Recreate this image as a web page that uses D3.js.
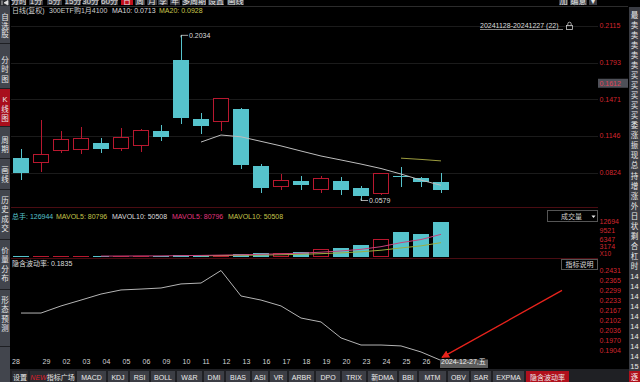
<!DOCTYPE html>
<html><head><meta charset="utf-8">
<script src="https://cdn.jsdelivr.net/npm/d3@7"></script>
<style>
html,body{margin:0;padding:0;background:#000;overflow:hidden}
svg{display:block}
text{font-family:Arial,"Liberation Sans","Noto Sans CJK SC",sans-serif}
</style></head><body>
<svg id="c" width="640" height="382"></svg>
<script>
// ---------- data ----------
const dates = ["28","29","02","03","04","05","06","09","10","11","12","13","16","17","18","19","20","23","24","25","26","27"];
const lastDateLabel = "2024-12-27,五";
const open  = [0.0953,0.0912,0.1018,0.1024,0.1086,0.1033,0.1059,0.1191,0.1817,0.1300,0.1271,0.1385,0.0883,0.0698,0.0751,0.0671,0.0751,0.0689,0.0636,0.0796,0.0780,0.0745];
const high  = [0.1033,0.1288,0.1191,0.1227,0.1130,0.1218,0.1209,0.1244,0.2034,0.1350,0.1482,0.1390,0.0901,0.0812,0.0795,0.0795,0.0786,0.0707,0.0821,0.0877,0.0785,0.0824];
const low   = [0.0760,0.0833,0.0998,0.0989,0.0997,0.1015,0.1006,0.1103,0.1253,0.1168,0.1191,0.0857,0.0645,0.0671,0.0671,0.0645,0.0627,0.0579,0.0630,0.0695,0.0695,0.0643];
const close = [0.0821,0.0986,0.1118,0.1130,0.1033,0.1138,0.1200,0.1138,0.1308,0.1238,0.1482,0.0894,0.0689,0.0760,0.0716,0.0777,0.0671,0.0619,0.0821,0.0784,0.0740,0.0672];
const ma10  = [null,null,null,null,null,null,null,null,null,0.1094,0.1156,0.1140,0.1100,0.1060,0.1015,0.0971,0.0936,0.0900,0.0861,0.0812,0.0759,0.0713];
const ma20  = [null,null,null,null,null,null,null,null,null,null,null,null,null,null,null,null,null,null,null,0.0952,0.0941,0.0928];
const volume  = [1200,1500,1800,1600,1400,1700,3500,2800,6500,5000,7000,9500,13000,14500,16000,25600,32000,42836,62700,89400,82100,126944];
const mavol5  = [null,null,null,null,1500,1600,2000,2200,3180,3900,4960,6160,8200,9800,12000,15720,20220,26187,35827,50507,61807,80796];
const mavol10 = [null,null,null,null,null,null,null,null,null,2700,3280,4080,5200,6490,7950,10340,13190,17194,22814,31254,38764,50508];
const iv = [0.2149,0.2149,0.2196,0.2235,0.2275,0.2302,0.2308,0.2315,0.2342,0.2348,0.2431,0.2262,0.2235,0.2196,0.2116,0.2090,0.1984,0.1937,0.1937,0.1931,0.1891,0.1835];
const priceTicks = [0.2115,0.1793,0.1471,0.1146,0.0824];
const currentPrice = 0.1612;
const volTicks = [12694,9521,6347,3174];   // shown x10
const ivTicks = [0.2431,0.2365,0.2299,0.2233,0.2167,0.2102,0.2036,0.1970,0.1904];
const topTabs = ["分时","1分","5分","15分","30分","60分","日","周","月","季","年","多周期","设置","画线"];
const sideTabs = ["自选股","分时图","K线图","周期","画线","历史成交","价量分布","形态预测"];
const bottomTabs = ["设置","NEW指标广场","MACD","KDJ","RSI","BOLL","W&R","DMI","BIAS","ASI","VR","ARBR","DPO","TRIX","新DMA","BBI","MTM","OBV","SAR","EXPMA","隐含波动率"];
const rightCol = ["最","卖","卖","卖","卖","卖","买","买","买","买","买","委","涨","振","现","总","持","增","涨","外","日","状","剩","合","杠","时","14","14","14","14","14","14","14","14","14","15"];

// ---------- setup ----------
const svg = d3.select("#c");
const RED = "#b8182f", TEAL = "#56c3cc", AX = "#d3262e", FS = 7;
svg.append("rect").attr("width",640).attr("height",382).attr("fill","#000");

const x = d3.scaleBand().domain(d3.range(dates.length)).range([11,451]).paddingInner(0.2).paddingOuter(0.1);
const cx = i => x(i) + x.bandwidth()/2;
const yP = d3.scaleLinear().domain([0.0824,0.1793]).range([172.7,62.7]);
const yV = d3.scaleLinear().domain([0,126944]).range([256.5,221.7]);
const yI = d3.scaleLinear().domain([0.1904,0.2431]).range([350,270.5]);

// ---------- top toolbar ----------
const tabX = [[12,26],[29,43],[47,62],[65,81],[83,98],[101,118],[121,133],[135,145],[147,157],[158,168],[170,180],[182,206],[208,224],[227,244]];
const tb = svg.append("g");
topTabs.forEach((t,i)=>{
  const [a,b] = tabX[i];
  tb.append("rect").attr("x",a).attr("y",-5).attr("width",b-a).attr("height",10).attr("fill", t==="日" ? "#c0101c" : "#3a3c43");
  tb.append("text").attr("x",(a+b)/2).attr("y",3.5).attr("text-anchor","middle").attr("font-size",8).attr("fill","#e6e6e6").text(t);
});
[["加",559,568],["编意",570,587],["▾",589,597]].forEach(([t,a,b])=>{
  tb.append("rect").attr("x",a).attr("y",-5).attr("width",b-a).attr("height",10).attr("fill","#3a3c43");
  tb.append("text").attr("x",(a+b)/2).attr("y",3.5).attr("text-anchor","middle").attr("font-size",8).attr("fill","#e6e6e6").text(t);
});
svg.append("line").attr("x1",11).attr("x2",628).attr("y1",6.5).attr("y2",6.5).attr("stroke","#2c2c2c");

// ---------- left sidebar ----------
const sb = svg.append("g");
sb.append("rect").attr("x",0).attr("y",0).attr("width",10).attr("height",382).attr("fill","#42454d");
sb.append("rect").attr("x",0).attr("y",0).attr("width",10).attr("height",6).attr("fill","#2a2c31");
sb.append("path").attr("d","M2,0.5 L2,5 M8,0.5 L4,2.8 L8,5 Z").attr("stroke","#ddd").attr("fill","#ddd").attr("stroke-width",0.8);
const secs = [[7,43,17.5,8.5],[45,88,60,9.5],[89,126,99.5,9.5],[127,158,140,9.5],[159,189,170,9.5],[190,239,200,9.5],[240,289,250,9.5],[290,346,300,9.5]];
sideTabs.forEach((t,i)=>{
  const [y0,y1,s,st] = secs[i];
  if (t==="K线图") sb.append("rect").attr("x",0).attr("y",y0).attr("width",10).attr("height",y1-y0).attr("fill","#a80e1c");
  sb.append("line").attr("x1",0).attr("x2",10).attr("y1",y1+0.5).attr("y2",y1+0.5).attr("stroke","#1e1f23");
  [...t].forEach((ch,k)=>{
    sb.append("text").attr("x",5).attr("y",s+k*st+2.7).attr("text-anchor","middle").attr("font-size",7.5).attr("fill","#eaeaea").text(ch);
  });
});

// ---------- right column ----------
const rc = svg.append("g");
rc.append("rect").attr("x",629).attr("y",7).attr("width",11).attr("height",375).attr("fill","#3a3c43");
rightCol.forEach((t,i)=>{
  rc.append("text").attr("x",634.5).attr("y",15+i*10.05+2.7).attr("text-anchor","middle").attr("font-size",7.5).attr("fill","#eaeaea").text(t);
});

// ---------- main price panel ----------
const main = svg.append("g");
priceTicks.forEach(v=>{
  const yy = Math.round(Math.max(15, yP(v))) + 0.5;
  main.append("line").attr("x1",11).attr("x2",598).attr("y1",yy).attr("y2",yy).attr("stroke","#1b1b1b");
});
main.append("text").attr("x",12).attr("y",13).attr("font-size",FS).attr("fill","#cfcfcf").text("日线(复权)");
main.append("text").attr("x",49).attr("y",13).attr("font-size",FS).attr("fill","#cfcfcf").text("300ETF购1月4100");
main.append("text").attr("x",112).attr("y",13).attr("font-size",FS).attr("fill","#dcdcdc").text("MA10: 0.0713");
main.append("text").attr("x",159).attr("y",13).attr("font-size",FS).attr("fill","#c9c94e").text("MA20: 0.0928");
// range label
main.append("text").attr("x",480).attr("y",27.5).attr("font-size",FS).attr("fill","#dcdcdc").text("20241128-20241227 (22)");
main.append("line").attr("x1",480).attr("x2",563).attr("y1",29.5).attr("y2",29.5).attr("stroke","#bbb").attr("stroke-width",0.7);
main.append("rect").attr("x",566.5).attr("y",25.5).attr("width",6).attr("height",4).attr("fill","none").attr("stroke","#ccc").attr("stroke-width",0.8);
main.append("path").attr("d","M567.8,25.5 v-1.6 a1.7,1.7 0 0 1 3.4,0 v1.6").attr("fill","none").attr("stroke","#ccc").attr("stroke-width",0.8);

// candles
const cg = main.append("g").attr("shape-rendering","crispEdges");
dates.forEach((d,i)=>{
  const c = cx(i), bw = x.bandwidth();
  const isUp = close[i] >= open[i];
  const top = yP(Math.max(open[i],close[i])), bot = yP(Math.min(open[i],close[i]));
  const col = isUp ? RED : TEAL;
  cg.append("line").attr("x1",c).attr("x2",c).attr("y1",yP(high[i])).attr("y2",top).attr("stroke",col);
  cg.append("line").attr("x1",c).attr("x2",c).attr("y1",bot).attr("y2",yP(low[i])).attr("stroke",col);
  if (isUp) {
    cg.append("rect").attr("x",x(i)+0.5).attr("y",top+0.5).attr("width",bw-1).attr("height",Math.max(1,bot-top-1))
      .attr("fill","#000").attr("stroke",RED);
  } else {
    cg.append("rect").attr("x",x(i)).attr("y",top).attr("width",bw).attr("height",Math.max(1.5,bot-top)).attr("fill",TEAL);
  }
});
// MA lines
const lineP = arr => d3.line().defined(v=>v!=null).x((v,i)=>cx(i)).y(v=>yP(v))(arr);
main.append("path").attr("d",lineP(ma10)).attr("fill","none").attr("stroke","#bdbdbd").attr("stroke-width",1);
main.append("path").attr("d",lineP(ma20)).attr("fill","none").attr("stroke","#9c9c3e").attr("stroke-width",1);
// high / low markers
const iHi = high.indexOf(d3.max(high)), iLo = low.indexOf(d3.min(low));
main.append("path").attr("d",`M${cx(iHi)},${yP(high[iHi])+2} V${yP(high[iHi])} H${cx(iHi)+7}`).attr("fill","none").attr("stroke","#cfcfcf").attr("stroke-width",0.8);
main.append("text").attr("x",cx(iHi)+8).attr("y",yP(high[iHi])+2.5).attr("font-size",FS).attr("fill","#dcdcdc").text(d3.format(".4f")(high[iHi]));
main.append("path").attr("d",`M${cx(iLo)},${yP(low[iLo])-2} V${yP(low[iLo])} H${cx(iLo)+7}`).attr("fill","none").attr("stroke","#cfcfcf").attr("stroke-width",0.8);
main.append("text").attr("x",cx(iLo)+8).attr("y",yP(low[iLo])+2.5).attr("font-size",FS).attr("fill","#dcdcdc").text(d3.format(".4f")(low[iLo]));

// price axis
const pax = main.append("g").attr("transform","translate(598,0)")
  .call(d3.axisRight(yP).tickValues(priceTicks).tickSize(0).tickPadding(1.5).tickFormat(d3.format(".4f")));
pax.select(".domain").remove();
pax.selectAll(".tick").attr("transform", d=>`translate(0,${Math.max(15,yP(d))})`);
pax.selectAll("text").attr("font-size",FS).attr("fill",AX).attr("font-family",null);
// current price tag
main.append("rect").attr("x",598).attr("y",yP(currentPrice)-4.5).attr("width",30).attr("height",9).attr("fill","#4e5058");
main.append("text").attr("x",599.5).attr("y",yP(currentPrice)+2.4).attr("font-size",FS).attr("fill","#e0455a").text(d3.format(".4f")(currentPrice));

// separators
[207.5, 258.5].forEach(yy=> svg.append("line").attr("x1",11).attr("x2",598).attr("y1",yy).attr("y2",yy).attr("stroke","#4a0c12"));

// ---------- volume panel ----------
const vp = svg.append("g");
[["总手: 126944",12,TEAL],["MAVOL5: 80796",56,"#c4c44a"],["MAVOL10: 50508",112,"#dcdcdc"],["MAVOL5: 80796",172,"#e0357e"],["MAVOL10: 50508",228,"#c4c44a"]]
  .forEach(([t,xx,c])=> vp.append("text").attr("x",xx).attr("y",218.5).attr("font-size",FS).attr("fill",c).text(t));
const vg = vp.append("g").attr("shape-rendering","crispEdges");
volume.forEach((v,i)=>{
  const isUp = close[i] >= open[i];
  const top = yV(v), h = Math.max(1, yV(0)-top);
  if (isUp) vg.append("rect").attr("x",x(i)+0.5).attr("y",yV(0)-h+0.5).attr("width",x.bandwidth()-1).attr("height",Math.max(0.5,h-1)).attr("fill","#000").attr("stroke",RED);
  else vg.append("rect").attr("x",x(i)).attr("y",yV(0)-h).attr("width",x.bandwidth()).attr("height",h).attr("fill",TEAL);
});
const lineV = arr => d3.line().defined(v=>v!=null).x((v,i)=>cx(i)).y(v=>yV(v))(arr);
vp.append("path").attr("d",lineV(mavol10)).attr("fill","none").attr("stroke","#9cae42").attr("stroke-width",1);
vp.append("path").attr("d",lineV(mavol5)).attr("fill","none").attr("stroke","#c8427c").attr("stroke-width",1);
const vax = vp.append("g").attr("transform","translate(598,0)")
  .call(d3.axisRight(yV).tickValues(volTicks.map(v=>v*10)).tickSize(0).tickPadding(1.5).tickFormat(v=>String(Math.round(v/10))));
vax.select(".domain").remove();
vax.selectAll("text").attr("font-size",FS).attr("fill",AX).attr("font-family",null);
vax.selectAll(".tick").filter(d=>d===volTicks[3]*10).attr("transform",`translate(0,${yV(volTicks[3]*10)-0.8})`);
vp.append("text").attr("x",599.5).attr("y",yV(volTicks[3]*10)+8.2).attr("font-size",6.5).attr("fill",AX).text("X10");
// 成交量 dropdown
vp.append("rect").attr("x",547.5).attr("y",210.5).attr("width",50).attr("height",11).attr("fill","#000").attr("stroke","#555");
vp.append("text").attr("x",561).attr("y",218.5).attr("font-size",FS).attr("fill","#cfcfcf").text("成交量");
vp.append("path").attr("d","M591.5,215.5 h4 l-2,2.5 z").attr("fill","#eee");

// ---------- IV panel ----------
const ip = svg.append("g");
ip.append("text").attr("x",12).attr("y",266).attr("font-size",FS).attr("fill","#dcdcdc").text("隐含波动率: 0.1835");
ip.append("rect").attr("x",561.5).attr("y",259.5).attr("width",36).attr("height",10).attr("fill","#000").attr("stroke","#555");
ip.append("text").attr("x",579.5).attr("y",267).attr("text-anchor","middle").attr("font-size",FS).attr("fill","#dcdcdc").text("指标说明");
const lineI = d3.line().x((v,i)=>cx(i)).y(v=>yI(v));
ip.append("path").attr("d",lineI(iv)).attr("fill","none").attr("stroke","#b4b4b4").attr("stroke-width",1);
const iax = ip.append("g").attr("transform","translate(598,0)")
  .call(d3.axisRight(yI).tickValues(ivTicks).tickSize(0).tickPadding(1.5).tickFormat(d3.format(".4f")));
iax.select(".domain").remove();
iax.selectAll("text").attr("font-size",FS).attr("fill",AX).attr("font-family",null);

// ---------- date axis ----------
const n = dates.length;
const dax = svg.append("g").attr("transform","translate(0,359)")
  .call(d3.axisBottom(x).tickSize(0).tickPadding(1).tickFormat(i => i===n-1 ? lastDateLabel : dates[i]));
dax.select(".domain").remove();
dax.selectAll(".tick text").attr("font-size",FS).attr("fill","#d6d6d6").attr("font-family",null)
  .attr("text-anchor","start").attr("dy","0.71em").attr("y",0.5)
  .attr("x",(i)=> i===0 ? 12-cx(0) : (i===n-1 ? 0 : 1.5));
dax.selectAll(".tick").filter(i=>i===n-1).insert("rect","text").attr("x",-1).attr("y",0.5).attr("width",48).attr("height",8.5).attr("fill","#5c5c5c");
dax.selectAll(".tick text").filter(i=>i===n-1).attr("fill","#f0f0f0");

// red annotation arrow
const tipX = cx(n-1), tipY = yI(iv[n-1]) - 3;
svg.append("defs").append("marker").attr("id","ah").attr("viewBox","0 0 10 10").attr("refX",9).attr("refY",5)
  .attr("markerWidth",6).attr("markerHeight",6).attr("orient","auto")
  .append("path").attr("d","M0,0 L10,5 L0,10 z").attr("fill","#e8231c");
svg.append("line").attr("x1",tipX+121).attr("y1",tipY-67).attr("x2",tipX+1).attr("y2",tipY)
  .attr("stroke","#e8231c").attr("stroke-width",1.3).attr("marker-end","url(#ah)");

// ---------- bottom toolbar ----------
const bt = svg.append("g");
bt.append("rect").attr("x",10).attr("y",369).attr("width",619).attr("height",13).attr("fill","#1f2024");
const btX = [[12,28],[30,75],[77,106],[108,128],[130,149],[151,175],[177,202],[204,224],[226,250],[252,268],[270,287],[289,314],[316,340],[342,366],[368,397],[399,417],[419,446],[448,469],[471,491],[493,524],[526,569]];
bottomTabs.forEach((t,i)=>{
  const [a,b] = btX[i];
  const hot = t==="隐含波动率";
  bt.append("rect").attr("x",a).attr("y",371).attr("width",b-a).attr("height",11)
    .attr("fill", hot ? "#b0101c" : (i<2 ? "#2b2c31" : "#3c3e45"));
  if (t.startsWith("NEW")) {
    const tx = bt.append("text").attr("x",(a+b)/2).attr("y",379.5).attr("text-anchor","middle").attr("font-size",FS);
    tx.append("tspan").attr("fill","#d81e2a").attr("font-style","italic").text("NEW");
    tx.append("tspan").attr("fill","#e6e6e6").text("指标广场");
  } else {
    bt.append("text").attr("x",(a+b)/2).attr("y",379.5).attr("text-anchor","middle").attr("font-size",FS).attr("fill","#ececec").text(t);
  }
});
bt.append("rect").attr("x",629).attr("y",371).attr("width",11).attr("height",11).attr("fill","#b0101c");
bt.append("text").attr("x",634.5).attr("y",379.5).attr("text-anchor","middle").attr("font-size",7.5).attr("fill","#fff").text("逐");
</script>
</body></html>
